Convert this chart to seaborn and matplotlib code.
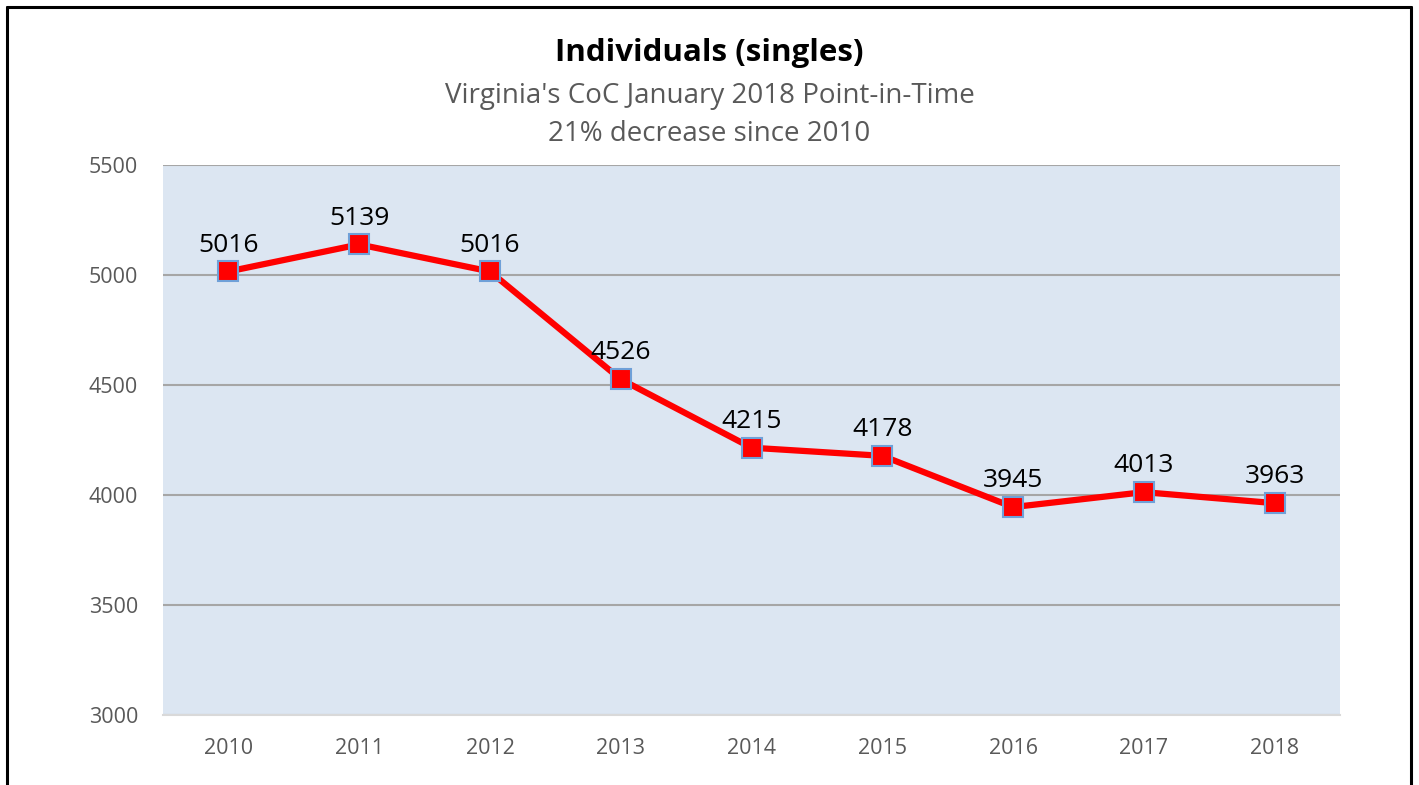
import numpy as np
import pandas as pd
import matplotlib
matplotlib.use('Agg')
from matplotlib import pyplot as plt
from matplotlib.lines import Line2D
import seaborn as sns

years = ['2010', '2011', '2012', '2013', '2014', '2015', '2016', '2017', '2018']
individuals = [5016, 5139, 5016, 4526, 4215, 4178, 3945, 4013, 3963]
y_ticks = [3000, 3500, 4000, 4500, 5000, 5500]

title = 'Individuals (singles)'
subtitle = "Virginia's CoC January 2018 Point-in-Time\n21% decrease since 2010"

sns.set_style('white')
plt.rcParams['font.family'] = ['Open Sans', 'DejaVu Sans']

df = pd.DataFrame({'year': years, 'count': individuals})

fig = plt.figure(figsize=(14.19, 7.85), dpi=100)
ax = fig.add_axes([163 / 1419, 1 - 715 / 785, 1177 / 1419, 550 / 785])
ax.set_facecolor('#dce6f2')

sns.lineplot(
    data=df, x='year', y='count', ax=ax, sort=False,
    color='#ff0000', lw=4.5, marker='s', markersize=15,
    markerfacecolor='#ff0000', markeredgecolor='#6fa0d8', markeredgewidth=1.5
)

for i, v in enumerate(individuals):
    ax.annotate(
        str(v), (i, v), xytext=(0, 10), textcoords='offset points',
        ha='center', va='bottom', fontsize=19, color='black'
    )

ax.set_xlim(-0.5, len(years) - 0.5)
ax.set_ylim(3000, 5500)
ax.set_yticks(y_ticks)
ax.set_yticklabels([str(t) for t in y_ticks])
ax.yaxis.grid(True, color='#a6a6a6', lw=1.5)
ax.set_axisbelow(True)
ax.set_xlabel('')
ax.set_ylabel('')
for side in ['top', 'left', 'right']:
    ax.spines[side].set_visible(False)
ax.spines['bottom'].set_color('#d9d9d9')
ax.spines['bottom'].set_linewidth(1.5)
ax.tick_params(axis='both', length=0, labelsize=15.5, colors='#595959')
ax.tick_params(axis='x', pad=16.5)
ax.tick_params(axis='y', pad=18)

fig.text(0.5, 1 - 53 / 785, title, ha='center', va='center',
         fontsize=22.5, fontweight='bold', color='black')
fig.text(0.5, 1 - 115 / 785, subtitle, ha='center', va='center',
         fontsize=20, color='#595959', linespacing=1.45)

# outer frame (bottom edge sits below the image)
frame_kw = dict(color='black', lw=2.2, transform=fig.transFigure, clip_on=False)
fig.add_artist(Line2D([7 / 1419, 7 / 1419], [-0.05, 1 - 7 / 785], **frame_kw))
fig.add_artist(Line2D([7 / 1419, 1411 / 1419], [1 - 7 / 785, 1 - 7 / 785], **frame_kw))
fig.add_artist(Line2D([1411 / 1419, 1411 / 1419], [-0.05, 1 - 7 / 785], **frame_kw))

fig.savefig('out.png', dpi=100)
